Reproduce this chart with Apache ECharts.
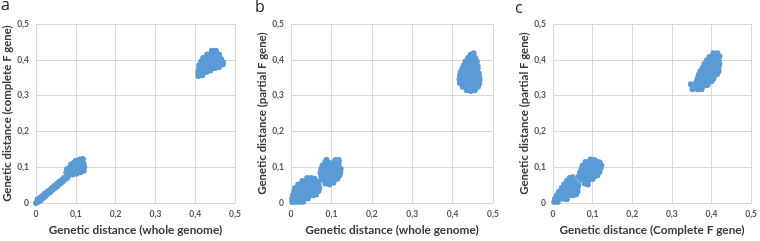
<!DOCTYPE html>
<html>
<head>
<meta charset="utf-8">
<script src="https://cdn.jsdelivr.net/npm/echarts@6/dist/echarts.min.js"></script>
<style>
  html, body { margin: 0; padding: 0; background: #fff; }
  #main { width: 760px; height: 241px; }
</style>
</head>
<body>
<div id="main"></div>
<script>
// tick labels (decimal comma, as in the figure)
var tickLabels = ['0', '0,1', '0,2', '0,3', '0,4', '0,5'];

var panelLetters = ['a', 'b', 'c'];
var xNames = ['Genetic distance (whole genome)', 'Genetic distance (whole genome)', 'Genetic distance (Complete F gene)'];
var yNames = ['Genetic distance (complete F gene)', 'Genetic distance (partial F gene)', 'Genetic distance (partial F gene)'];

// panel a - complete F vs whole genome
var aLow = [
  [0, 0], [0.006, 0.004], [0.004, 0.01], [0.012, 0.008], [0.01, 0.015], [0.018, 0.014], [0.016, 0.02],
  [0.024, 0.02], [0.022, 0.026], [0.03, 0.026], [0.028, 0.031], [0.036, 0.031], [0.034, 0.036],
  [0.042, 0.037], [0.04, 0.042], [0.048, 0.043], [0.046, 0.048], [0.054, 0.048], [0.052, 0.053],
  [0.06, 0.054], [0.058, 0.059], [0.066, 0.059], [0.064, 0.064], [0.072, 0.065], [0.07, 0.07], [0.078, 0.07],
  [0.076, 0.085], [0.078, 0.095], [0.082, 0.078], [0.085, 0.088], [0.086, 0.1], [0.088, 0.108],
  [0.092, 0.08], [0.094, 0.09], [0.095, 0.1], [0.095, 0.112], [0.1, 0.118], [0.102, 0.082],
  [0.104, 0.092], [0.105, 0.102], [0.105, 0.11], [0.11, 0.122], [0.112, 0.086], [0.114, 0.096],
  [0.114, 0.106], [0.115, 0.114], [0.118, 0.123], [0.12, 0.09], [0.121, 0.1], [0.12, 0.11]
];
var aHigh = [
  [0.408, 0.355], [0.418, 0.357],
  [0.408, 0.365], [0.418, 0.365], [0.428, 0.366], [0.438, 0.37],
  [0.41, 0.375], [0.42, 0.375], [0.43, 0.375], [0.44, 0.375], [0.45, 0.377], [0.46, 0.38],
  [0.41, 0.385], [0.42, 0.385], [0.43, 0.385], [0.44, 0.385], [0.45, 0.385], [0.46, 0.385], [0.469, 0.387],
  [0.415, 0.395], [0.425, 0.395], [0.435, 0.395], [0.445, 0.395], [0.455, 0.395], [0.465, 0.395], [0.47, 0.393],
  [0.42, 0.405], [0.43, 0.405], [0.44, 0.405], [0.45, 0.405], [0.46, 0.405], [0.465, 0.402],
  [0.43, 0.415], [0.44, 0.415], [0.45, 0.415], [0.46, 0.415],
  [0.442, 0.425], [0.452, 0.425]
];

// panel b - partial F vs whole genome
var bLow = [
  [0.003, 0.003], [0.012, 0.003], [0.022, 0.003], [0.03, 0.004],
  [0.003, 0.012], [0.012, 0.012], [0.022, 0.012], [0.032, 0.012], [0.042, 0.013],
  [0.005, 0.022], [0.015, 0.022], [0.025, 0.022], [0.035, 0.022], [0.045, 0.022], [0.055, 0.022], [0.062, 0.024],
  [0.008, 0.032], [0.018, 0.032], [0.028, 0.032], [0.038, 0.032], [0.048, 0.032], [0.058, 0.032], [0.068, 0.034],
  [0.01, 0.042], [0.02, 0.042], [0.03, 0.042], [0.04, 0.042], [0.05, 0.042], [0.06, 0.042], [0.07, 0.042],
  [0.018, 0.052], [0.028, 0.052], [0.038, 0.052], [0.048, 0.052], [0.058, 0.052], [0.068, 0.052],
  [0.028, 0.062], [0.038, 0.062], [0.048, 0.062], [0.058, 0.062], [0.066, 0.06],
  [0.04, 0.07], [0.05, 0.07], [0.058, 0.068]
];
var bMid = [
  [0.085, 0.055], [0.095, 0.052], [0.105, 0.057],
  [0.078, 0.065], [0.088, 0.065], [0.098, 0.065], [0.108, 0.065], [0.115, 0.068],
  [0.075, 0.075], [0.085, 0.075], [0.095, 0.075], [0.105, 0.075], [0.115, 0.075], [0.12, 0.078],
  [0.073, 0.085], [0.083, 0.085], [0.093, 0.085], [0.103, 0.085], [0.113, 0.085], [0.122, 0.085],
  [0.075, 0.095], [0.085, 0.095], [0.095, 0.095], [0.105, 0.095], [0.115, 0.095], [0.123, 0.095],
  [0.078, 0.105], [0.088, 0.105], [0.098, 0.105], [0.108, 0.105], [0.118, 0.105],
  [0.085, 0.115], [0.095, 0.112], [0.108, 0.115], [0.118, 0.115],
  [0.088, 0.12], [0.11, 0.12], [0.118, 0.12]
];
var bHigh = [
  [0.445, 0.415], [0.452, 0.418],
  [0.438, 0.405], [0.448, 0.405], [0.456, 0.405],
  [0.432, 0.395], [0.442, 0.395], [0.452, 0.395], [0.46, 0.395],
  [0.428, 0.385], [0.438, 0.385], [0.448, 0.385], [0.458, 0.385], [0.462, 0.383],
  [0.424, 0.375], [0.434, 0.375], [0.444, 0.375], [0.454, 0.375], [0.462, 0.375],
  [0.42, 0.365], [0.43, 0.365], [0.44, 0.365], [0.45, 0.365], [0.46, 0.365], [0.465, 0.362],
  [0.418, 0.355], [0.428, 0.355], [0.438, 0.355], [0.448, 0.355], [0.458, 0.355], [0.466, 0.352],
  [0.417, 0.345], [0.427, 0.345], [0.437, 0.345], [0.447, 0.345], [0.457, 0.345], [0.467, 0.345],
  [0.418, 0.335], [0.428, 0.335], [0.438, 0.335], [0.448, 0.335], [0.458, 0.335], [0.466, 0.333],
  [0.425, 0.325], [0.435, 0.325], [0.445, 0.325], [0.455, 0.325], [0.463, 0.325],
  [0.435, 0.315], [0.445, 0.313], [0.455, 0.315]
];

// panel c - partial F vs complete F
var cLow = [
  [0.003, 0.003], [0.012, 0.003],
  [0.005, 0.012], [0.015, 0.012], [0.025, 0.012], [0.035, 0.011],
  [0.01, 0.022], [0.02, 0.022], [0.03, 0.022], [0.04, 0.022], [0.05, 0.022], [0.058, 0.024],
  [0.015, 0.032], [0.025, 0.032], [0.035, 0.032], [0.045, 0.032], [0.055, 0.032], [0.062, 0.032],
  [0.022, 0.042], [0.032, 0.042], [0.042, 0.042], [0.052, 0.042], [0.062, 0.042],
  [0.028, 0.052], [0.038, 0.052], [0.048, 0.052], [0.058, 0.052], [0.064, 0.05],
  [0.035, 0.062], [0.045, 0.062], [0.055, 0.062],
  [0.042, 0.07], [0.05, 0.072]
];
var cMid = [
  [0.08, 0.055], [0.088, 0.052],
  [0.07, 0.065], [0.08, 0.065], [0.09, 0.065], [0.1, 0.067],
  [0.065, 0.075], [0.075, 0.075], [0.085, 0.075], [0.095, 0.075], [0.105, 0.075], [0.112, 0.078],
  [0.068, 0.085], [0.078, 0.085], [0.088, 0.085], [0.098, 0.085], [0.108, 0.085], [0.117, 0.087],
  [0.072, 0.095], [0.082, 0.095], [0.092, 0.095], [0.102, 0.095], [0.112, 0.095], [0.12, 0.097],
  [0.075, 0.105], [0.085, 0.105], [0.095, 0.105], [0.105, 0.105], [0.115, 0.105], [0.122, 0.105],
  [0.082, 0.115], [0.092, 0.115], [0.102, 0.115], [0.112, 0.115], [0.118, 0.113],
  [0.095, 0.122], [0.105, 0.12]
];
var cHigh = [
  [0.365, 0.318], [0.375, 0.318],
  [0.362, 0.328], [0.372, 0.328], [0.382, 0.328], [0.39, 0.33],
  [0.362, 0.338], [0.372, 0.338], [0.382, 0.338], [0.392, 0.338], [0.4, 0.34],
  [0.365, 0.348], [0.375, 0.348], [0.385, 0.348], [0.395, 0.348], [0.405, 0.348],
  [0.368, 0.358], [0.378, 0.358], [0.388, 0.358], [0.398, 0.358], [0.408, 0.358], [0.414, 0.36],
  [0.372, 0.368], [0.382, 0.368], [0.392, 0.368], [0.402, 0.368], [0.412, 0.368], [0.418, 0.368],
  [0.378, 0.378], [0.388, 0.378], [0.398, 0.378], [0.408, 0.378], [0.418, 0.378],
  [0.382, 0.388], [0.392, 0.388], [0.402, 0.388], [0.412, 0.388], [0.42, 0.388],
  [0.388, 0.398], [0.398, 0.398], [0.408, 0.398], [0.418, 0.398],
  [0.395, 0.408], [0.405, 0.408], [0.415, 0.408], [0.42, 0.41],
  [0.405, 0.418], [0.415, 0.418],
  [0.348, 0.332], [0.352, 0.318]
];

var panelData = [aLow.concat(aHigh), bLow.concat(bMid, bHigh), cLow.concat(cMid, cHigh)];

var grids = [
  { left: 36, top: 24, width: 199, height: 185 },
  { left: 291, top: 24, width: 202, height: 184 },
  { left: 553, top: 24, width: 204, height: 184 }
];
var letterPos = [[1, -3], [255, -1], [515, 0]];

var myChart = echarts.init(document.getElementById('main'));
var gridColor = '#d9d9d9';
var font = 'Lato';

var xAxes = [], yAxes = [], series = [], graphics = [];
for (var i = 0; i < 3; i++) {
  xAxes.push({
    gridIndex: i, type: 'value', min: 0, max: 0.5, interval: 0.1,
    name: xNames[i], nameLocation: 'middle', nameGap: 18,
    nameTextStyle: { fontFamily: font, fontWeight: 'bold', fontSize: 11.8, color: '#3a3a3a' },
    axisLine: { show: true, lineStyle: { color: gridColor } },
    axisTick: { show: false },
    splitLine: { show: true, lineStyle: { color: gridColor } },
    axisLabel: {
      margin: 7, fontFamily: font, fontWeight: 'bold', fontSize: 8.5, color: '#555',
      formatter: function (v) { return tickLabels[Math.round(v * 10)]; }
    }
  });
  yAxes.push({
    gridIndex: i, type: 'value', min: 0, max: 0.5, interval: 0.1,
    name: yNames[i], nameLocation: 'middle', nameGap: 20,
    nameTextStyle: { fontFamily: font, fontWeight: 'bold', fontSize: 11.4, color: '#3a3a3a' },
    axisLine: { show: true, lineStyle: { color: gridColor } },
    axisTick: { show: false },
    splitLine: { show: true, lineStyle: { color: gridColor } },
    axisLabel: {
      margin: 7, fontFamily: font, fontWeight: 'bold', fontSize: 8.5, color: '#555',
      formatter: function (v) { return tickLabels[Math.round(v * 10)]; }
    }
  });
  series.push({
    type: 'scatter', xAxisIndex: i, yAxisIndex: i,
    data: panelData[i],
    symbol: 'circle', symbolSize: 6,
    itemStyle: { color: '#5b9bd5', opacity: 1 },
    silent: true
  });
  graphics.push({
    type: 'text', left: letterPos[i][0], top: letterPos[i][1],
    style: { text: panelLetters[i], font: '16px "Open Sans"', fill: '#222' }
  });
}

myChart.setOption({
  animation: false,
  backgroundColor: '#fff',
  grid: grids,
  xAxis: xAxes,
  yAxis: yAxes,
  series: series,
  graphic: graphics
});
</script>
</body>
</html>
